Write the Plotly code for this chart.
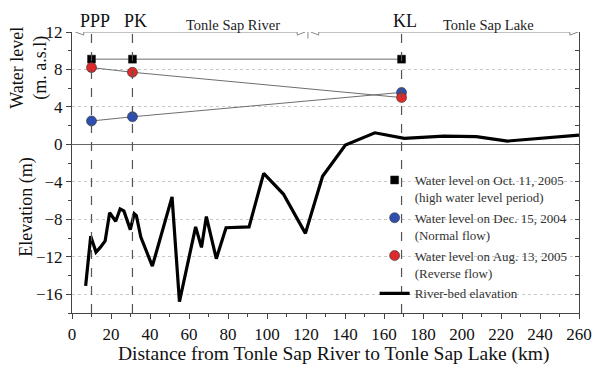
import plotly.graph_objects as go

# ---- data ----
stations = ["PPP", "PK", "KL"]
station_km = [10, 31, 169]

wl_oct2005 = [9.1, 9.1, 9.1]      # high water level period
wl_dec2004 = [2.5, 2.95, 5.55]    # normal flow
wl_aug2005 = [8.2, 7.7, 5.0]      # reverse flow

bed_km = [7, 9.6, 12.3, 14.5, 17.0, 19.3, 22.4, 24.7, 26.6, 29.9, 31.9, 33.0, 35.3,
          41.2, 51.3, 55.1, 63.4, 66.4, 68.9, 74.0, 79.0, 90.8, 98.3, 108.4, 119.7,
          128.5, 140.2, 155.3, 170.4, 190.6, 207.4, 223.3, 260]
bed_elev = [-15.1, -9.8, -11.5, -11.0, -10.3, -7.3, -8.2, -6.9, -7.1, -9.1, -7.4, -7.6, -9.9,
            -13.0, -5.6, -16.8, -8.8, -11.0, -7.7, -12.2, -8.9, -8.8, -3.1, -5.3, -9.5,
            -3.4, -0.07, 1.24, 0.64, 0.89, 0.82, 0.36, 1.0]

legend_names = ["Water level on Oct. 11, 2005<br>(high water level period)",
                "Water level on Dec. 15, 2004<br>(Normal flow)",
                "Water level on Aug. 13, 2005<br>(Reverse flow)",
                "River-bed elavation"]

FONT = "Liberation Serif"
W, H = 604, 366
L, R, T, B = 72, 16, 32, 53
PW, PH = W - L - R, H - T - B

def px(xp):
    return (xp - L) / PW

def py(yp):
    return (H - B - yp) / PH

fig = go.Figure()

# connecting lines for water levels
for vals in (wl_oct2005, wl_dec2004, wl_aug2005):
    fig.add_trace(go.Scatter(x=station_km, y=vals, mode="lines",
                             line=dict(color="#6e6e6e", width=1), showlegend=False,
                             hoverinfo="skip"))

# river bed
fig.add_trace(go.Scatter(x=bed_km, y=bed_elev, mode="lines", name=legend_names[3],
                         line=dict(color="black", width=3.2), legendrank=4,
                         legendgroup="d"))

fig.add_trace(go.Scatter(x=station_km, y=wl_oct2005, mode="markers", name=legend_names[0],
                         marker=dict(symbol="square", size=8, color="black",
                                     line=dict(color="#222", width=0.5)),
                         legendrank=1, legendgroup="a"))
fig.add_trace(go.Scatter(x=station_km, y=wl_dec2004, mode="markers", name=legend_names[1],
                         marker=dict(symbol="circle", size=10, color="#2f4fb0",
                                     line=dict(color="#333", width=0.6)),
                         legendrank=2, legendgroup="b"))
fig.add_trace(go.Scatter(x=station_km, y=wl_aug2005, mode="markers", name=legend_names[2],
                         marker=dict(symbol="circle", size=10, color="#dd2a2a",
                                     line=dict(color="#333", width=0.6)),
                         legendrank=3, legendgroup="c"))

# dummy trace for right axis
fig.add_trace(go.Scatter(x=[0], y=[0], yaxis="y2", mode="markers",
                         marker=dict(opacity=0), showlegend=False, hoverinfo="skip"))

shapes = []
# vertical dashed station lines
for k in station_km:
    shapes.append(dict(type="line", xref="x", yref="y", x0=k, x1=k, y0=-18, y1=12,
                       line=dict(color="#555555", width=1.2, dash="dash")))

# arrows along top
gray = "#888888"
def tri(tip, base, yc=12, hh=0.33):
    return dict(type="path", xref="x", yref="y",
                path=f"M {tip} {yc} L {base} {yc+hh} L {base} {yc-hh} Z",
                fillcolor="white", line=dict(color=gray, width=1))

shapes.append(dict(type="line", xref="x", yref="y", x0=6, x1=115.5, y0=12, y1=12,
                   line=dict(color=gray, width=1.2)))
shapes.append(dict(type="line", xref="x", yref="y", x0=126.5, x1=255, y0=12, y1=12,
                   line=dict(color=gray, width=1.2)))
shapes.append(tri(1.8, 6))
shapes.append(tri(119.5, 115.5))
shapes.append(tri(122.5, 126.5))
shapes.append(tri(259.5, 255.3))
shapes.append(dict(type="line", xref="x", yref="y", x0=121, x1=121, y0=11.3, y1=12.7,
                   line=dict(color=gray, width=1)))

def ann(text, x, y, size, xref="paper", angle=0, xshift=0, color="#111"):
    return dict(text=text, x=x, y=y, xref=xref, yref="paper", xanchor="center",
                yanchor="middle", textangle=angle, showarrow=False, xshift=xshift,
                font=dict(family=FONT, size=size, color=color))

annotations = []
for name, k in zip(stations, station_km):
    annotations.append(ann(name, k, py(21), 18, xref="x", xshift=3))
annotations.append(ann("Tonle Sap River", (236 - L) / PW * 260, py(25), 14.5, xref="x",
                       color="#222"))
annotations.append(ann("Tonle Sap Lake", (496 - L) / PW * 260, py(25), 14.5, xref="x",
                       color="#222"))
annotations.append(ann("Water level<br>(m. a.s.l)", px(28), py(68), 18, angle=-90))
annotations.append(ann("Elevation (m)", px(25), py(207), 18, angle=-90))
annotations.append(ann("Distance from Tonle Sap River to Tonle Sap Lake (km)",
                       px(338.5), py(354), 19.5))

axis_col = "#444444"
fig.update_layout(
    width=W, height=H, margin=dict(l=L, r=R, t=T, b=B),
    paper_bgcolor="white", plot_bgcolor="white",
    font=dict(family=FONT, color="#111"),
    xaxis=dict(range=[0, 260], dtick=20, tick0=0, ticks="outside", ticklen=5,
               tickcolor=axis_col, showline=True, linecolor=axis_col, linewidth=1.2,
               showgrid=False, zeroline=False, tickfont=dict(family=FONT, size=17),
               minor=dict(dtick=10, ticks="outside", ticklen=3, tickcolor=axis_col)),
    yaxis=dict(range=[-18, 12], dtick=4, tick0=0, ticks="outside", ticklen=5,
               tickcolor=axis_col, showline=True, linecolor=axis_col, linewidth=1.2,
               showgrid=True, gridcolor="#c8c8c8", griddash="dot", gridwidth=1,
               zeroline=True, zerolinecolor="#666666", zerolinewidth=1.2,
               tickfont=dict(family=FONT, size=17),
               minor=dict(dtick=2, ticks="outside", ticklen=3, tickcolor=axis_col)),
    yaxis2=dict(range=[-18, 12], dtick=2, overlaying="y", side="right",
                ticks="inside", ticklen=4, tickcolor=axis_col, showline=True,
                linecolor=axis_col, linewidth=1.2, showticklabels=False,
                showgrid=False, zeroline=False),
    showlegend=True,
    legend=dict(x=px(380), y=py(165), xanchor="left", yanchor="top",
                bgcolor="rgba(0,0,0,0)", font=dict(family=FONT, size=13, color="#333"),
                valign="top", tracegroupgap=1, traceorder="grouped"),
    shapes=shapes, annotations=annotations,
)

fig.write_html("out.html")
